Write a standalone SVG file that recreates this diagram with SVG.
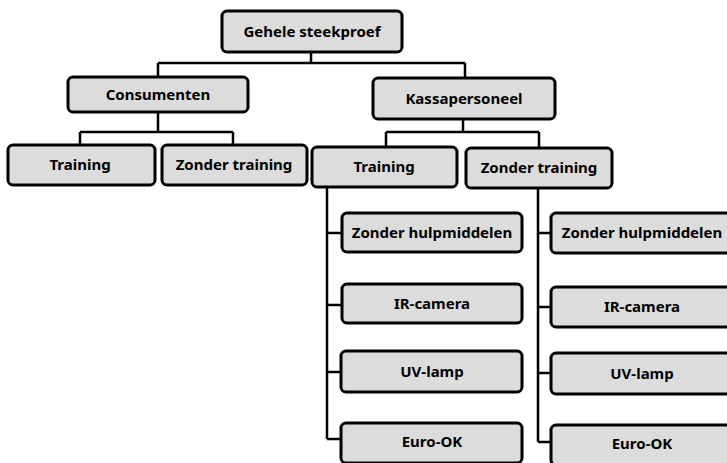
<svg xmlns="http://www.w3.org/2000/svg" width="727" height="463" viewBox="0 0 727 463">
<style>
.box{fill:#dcdcdc;stroke:#000;stroke-width:3}
.lbl{font-family:"Noto Sans","Open Sans",sans-serif;font-weight:bold;font-size:15px;fill:#000;text-anchor:middle;dominant-baseline:central}
.ln{fill:none;stroke:#000;stroke-width:2.5}
</style>
<rect width="727" height="463" fill="#fff"/>
<g id="connectors">
<path class="ln" d="M311 52V63M158 63H465M158 63V77M465 63V78"/>
<path class="ln" d="M158 112V132M80 132H233M80 132V145M233 132V145"/>
<path class="ln" d="M463 120V132M386 132H539M386 132V147M539 132V148"/>
<path class="ln" d="M327 187V439M327 233H342M327 305H342M327 372H342M327 439H342"/>
<path class="ln" d="M538 188V442M538 233H551M538 307H551M538 373H551M538 442H551"/>
</g>
<g id="n-root"><rect class="box" x="222" y="11" width="180" height="41" rx="5"/><text class="lbl" x="312" y="31">Gehele steekproef</text></g>
<g id="n-cons"><rect class="box" x="68" y="77" width="180" height="35" rx="5"/><text class="lbl" x="158" y="94">Consumenten</text></g>
<g id="n-kassa"><rect class="box" x="373" y="78" width="182" height="41" rx="5"/><text class="lbl" x="464" y="98">Kassapersoneel</text></g>
<g id="n-cons-tr"><rect class="box" x="8" y="145" width="147" height="40" rx="5"/><text class="lbl" x="80" y="164">Training</text></g>
<g id="n-cons-zt"><rect class="box" x="162" y="145" width="145" height="40" rx="5"/><text class="lbl" x="234" y="164">Zonder training</text></g>
<g id="n-kas-tr"><rect class="box" x="312" y="147" width="145" height="40" rx="5"/><text class="lbl" x="384" y="166">Training</text></g>
<g id="n-kas-zt"><rect class="box" x="466" y="148" width="146" height="40" rx="5"/><text class="lbl" x="539" y="167">Zonder training</text></g>
<g id="n-l1"><rect class="box" x="342" y="213" width="180" height="39" rx="5"/><text class="lbl" x="432" y="232">Zonder hulpmiddelen</text></g>
<g id="n-l2"><rect class="box" x="342" y="284" width="180" height="39" rx="5"/><text class="lbl" x="432" y="303">IR-camera</text></g>
<g id="n-l3"><rect class="box" x="341" y="351" width="181" height="41" rx="5"/><text class="lbl" x="432" y="371">UV-lamp</text></g>
<g id="n-l4"><rect class="box" x="341" y="423" width="181" height="40" rx="5"/><text class="lbl" x="432" y="441">Euro-OK</text></g>
<g id="n-r1"><rect class="box" x="551" y="213" width="182" height="40" rx="5"/><text class="lbl" x="642" y="232">Zonder hulpmiddelen</text></g>
<g id="n-r2"><rect class="box" x="551" y="287" width="182" height="40" rx="5"/><text class="lbl" x="642" y="306">IR-camera</text></g>
<g id="n-r3"><rect class="box" x="551" y="353" width="182" height="41" rx="5"/><text class="lbl" x="642" y="373">UV-lamp</text></g>
<g id="n-r4"><rect class="box" x="551" y="425" width="182" height="40" rx="5"/><text class="lbl" x="642" y="443">Euro-OK</text></g>
</svg>
